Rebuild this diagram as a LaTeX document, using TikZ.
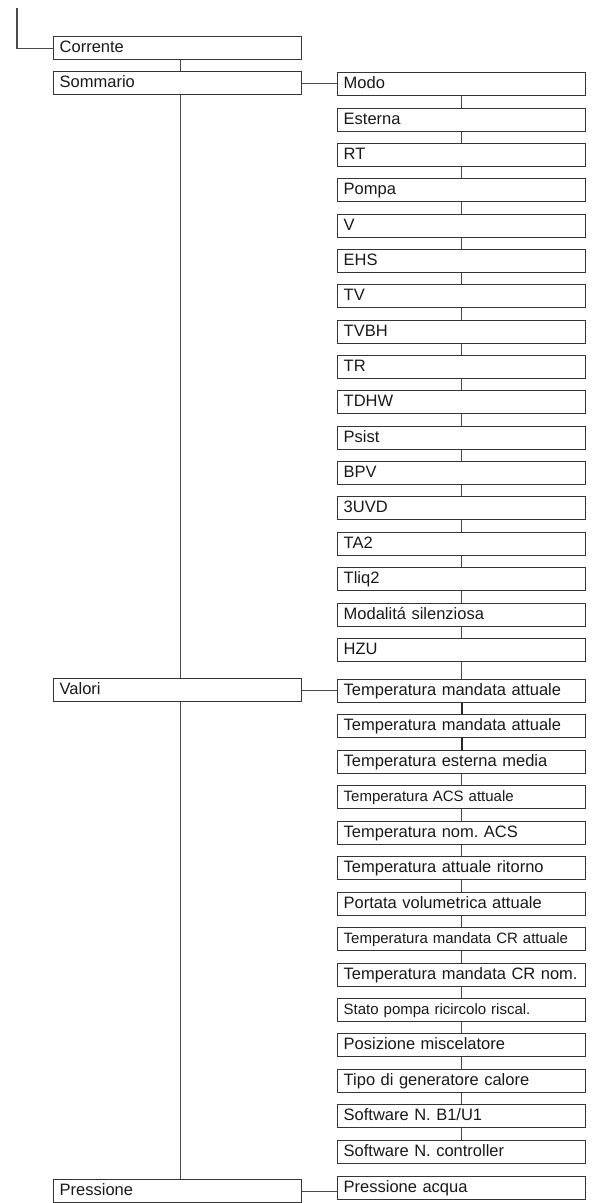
\documentclass[tikz,border=0pt]{standalone}
\usepackage{fontspec}
\setmainfont{Liberation Sans}
\frenchspacing
\definecolor{boxline}{HTML}{353535}
\definecolor{conn}{HTML}{4A4A4A}
\begin{document}
\begin{tikzpicture}[x=1pt,y=-1pt,
  mbox/.style={draw=boxline, line width=1.4pt, fill=white, anchor=north west,
    minimum height=23pt, inner xsep=6pt, inner ysep=0pt, text width=236pt, align=left,
    text height=12.5pt, text depth=3.5pt, font=\fontsize{16.5}{18}\selectfont, text=black!90},
  sbox/.style={mbox, font=\fontsize{15}{17}\selectfont},
  link/.style={draw=conn, line width=1.4pt},
  thick link/.style={draw=black!85, line width=2.2pt}]
\useasboundingbox (0,0) rectangle (593,1203);
% left column
\node[mbox] (corr) at (53,36) {Corrente};
\node[mbox] (somm) at (53,71) {Sommario};
\node[mbox] (val) at (53,678) {Valori};
\node[mbox] (press) at (53,1179) {Pressione};
% right column
\node[mbox] (r1) at (337,72) {Modo};
\node[mbox] (r2) at (337,108) {Esterna};
\node[mbox] (r3) at (337,143) {RT};
\node[mbox] (r4) at (337,178) {Pompa};
\node[mbox] (r5) at (337,214) {V};
\node[mbox] (r6) at (337,249) {EHS};
\node[mbox] (r7) at (337,284) {TV};
\node[mbox] (r8) at (337,320) {TVBH};
\node[mbox] (r9) at (337,355) {TR};
\node[mbox] (r10) at (337,390) {TDHW};
\node[mbox] (r11) at (337,426) {Psist};
\node[mbox] (r12) at (337,461) {BPV};
\node[mbox] (r13) at (337,496) {3UVD};
\node[mbox] (r14) at (337,532) {TA2};
\node[mbox] (r15) at (337,567) {Tliq2};
\node[mbox] (r16) at (337,603) {Modalitá silenziosa};
\node[mbox] (r17) at (337,638) {HZU};
\node[mbox] (r18) at (337,679) {Temperatura mandata attuale};
\node[mbox] (r19) at (337,714) {Temperatura mandata attuale};
\node[mbox] (r20) at (337,750) {Temperatura esterna media};
\node[sbox] (r21) at (337,785) {Temperatura ACS attuale};
\node[mbox] (r22) at (337,821) {Temperatura nom. ACS};
\node[mbox] (r23) at (337,856) {Temperatura attuale ritorno};
\node[mbox] (r24) at (337,892) {Portata volumetrica attuale};
\node[sbox] (r25) at (337,927) {Temperatura mandata CR attuale};
\node[mbox] (r26) at (337,963) {Temperatura mandata CR nom.};
\node[sbox] (r27) at (337,998) {Stato pompa ricircolo riscal.};
\node[mbox] (r28) at (337,1033) {Posizione miscelatore};
\node[mbox] (r29) at (337,1069) {Tipo di generatore calore};
\node[mbox] (r30) at (337,1104) {Software N. B1/U1};
\node[mbox] (r31) at (337,1140) {Software N. controller};
\node[mbox] (r32) at (337,1176) {Pressione acqua};
% top entry line
\coordinate (top) at (17,8);
\draw[link] (top) |- (corr.west);
% left trunk
\draw[link] ([xshift=3pt]corr.south) -- ([xshift=3pt]somm.north);
\draw[link] ([xshift=3pt]somm.south) -- ([xshift=3pt]val.north);
\draw[link] ([xshift=3pt]val.south) -- ([xshift=3pt]press.north);
% horizontal branches
\draw[link] (somm.east) -- (somm.east -| r1.west);
\draw[link] (val.east) -- (val.east -| r18.west);
\draw[link] (press.east) -- (press.east -| r32.west);
% right column chains
\foreach \a/\b in {1/2,2/3,3/4,4/5,5/6,6/7,7/8,8/9,9/10,10/11,11/12,12/13,13/14,14/15,15/16,16/17,17/18,
  20/21,21/22,22/23,23/24,24/25,25/26,26/27,27/28,28/29,29/30,30/31}
  \draw[link] (r\a.south) -- (r\b.north);
\draw[thick link] (r18.south) -- (r19.north);
\draw[thick link] (r19.south) -- (r20.north);
\end{tikzpicture}
\end{document}
